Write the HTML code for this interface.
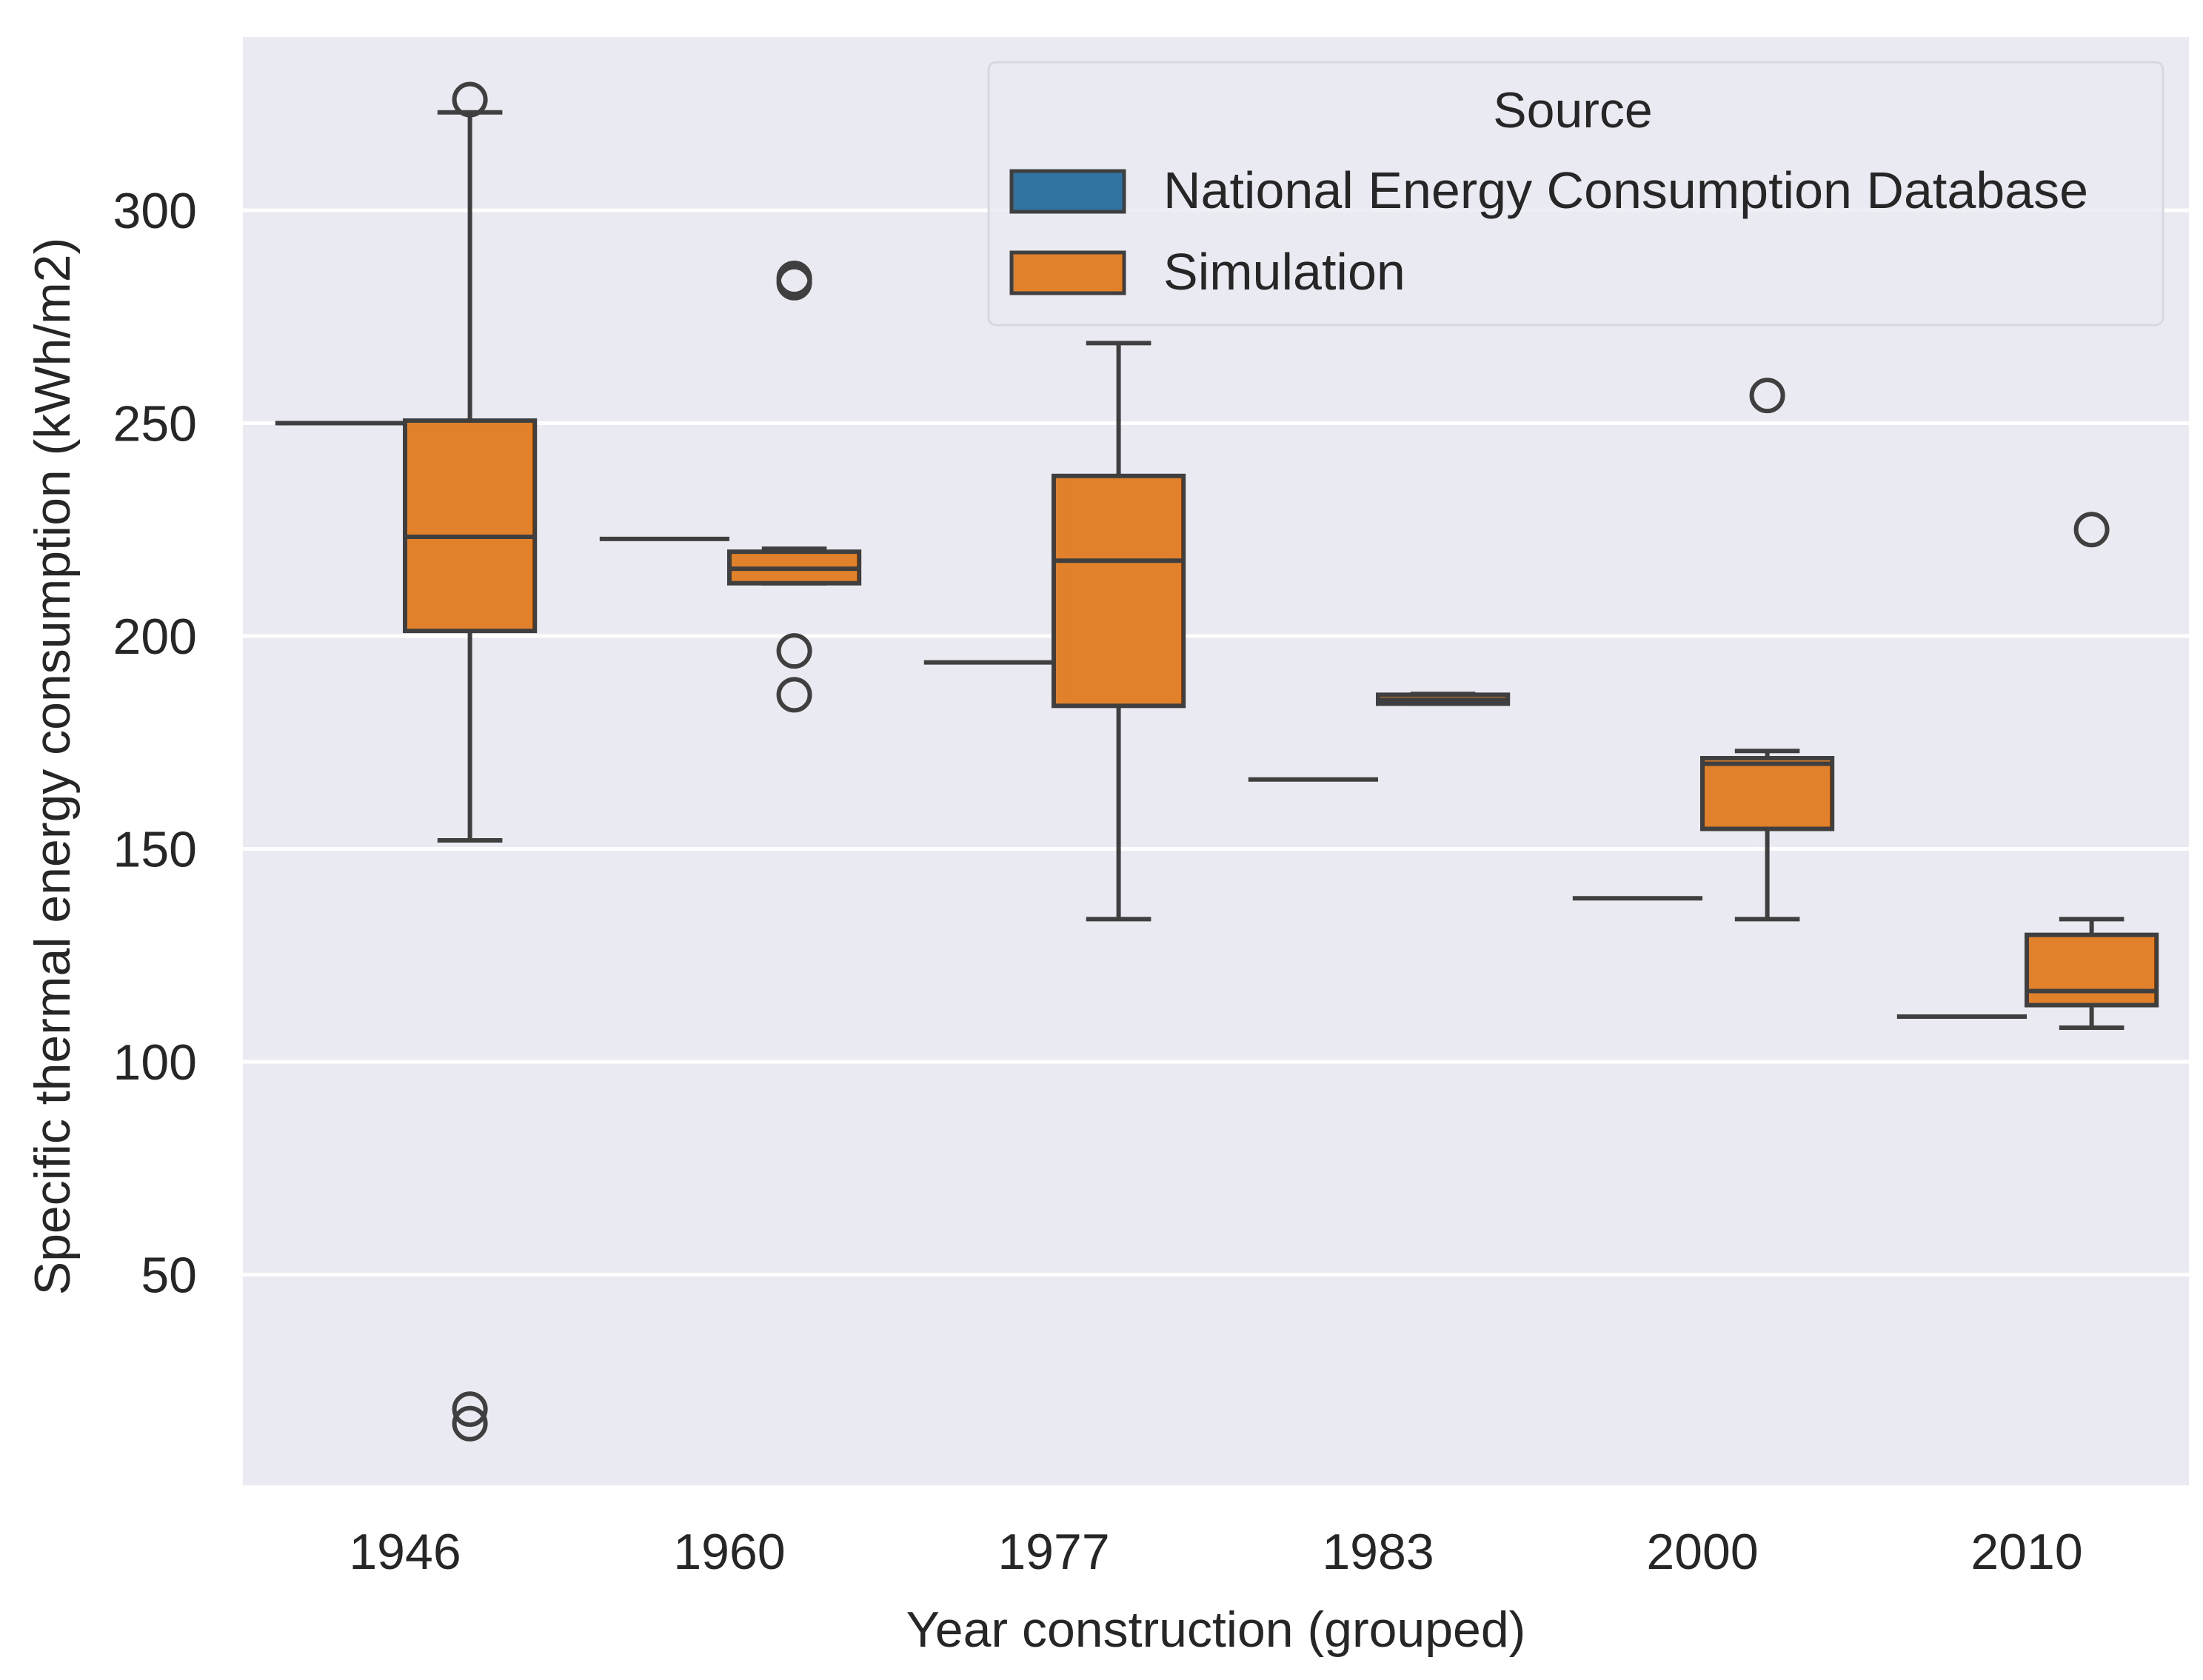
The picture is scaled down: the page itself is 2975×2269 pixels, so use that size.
<!DOCTYPE html>
<html><head><meta charset="utf-8"><style>
html,body{margin:0;padding:0;background:#fff;}
svg text{font-family:"Liberation Sans",Arial,sans-serif;fill:#262626;}
</style></head><body>
<svg id="chart" width="2975" height="2264" viewBox="0 0 2975 2264" xmlns="http://www.w3.org/2000/svg">
<rect x="328" y="50" width="2628" height="1956" fill="#eaeaf2"/>
<g id="grid"></g>
<g id="yticks"></g>
<g id="xticks"></g>
<g id="boxes"></g>
<text transform="translate(94,1035) rotate(-90)" text-anchor="middle" font-size="68">Specific thermal energy consumption (kWh/m2)</text>
<text x="1642" y="2224" text-anchor="middle" font-size="68">Year construction (grouped)</text>
<g>
<rect x="1335" y="84" width="1586" height="355" rx="10" fill="#eaeaf2" stroke="#d8d8e0" stroke-width="3" fill-opacity="0.8"/>
<text x="2124" y="172" text-anchor="middle" font-size="68">Source</text>
<g>
<rect x="1366" y="231" width="152" height="55" fill="#3274a1" stroke="#3f3f3f" stroke-width="5"/>
<text x="1571" y="281" font-size="70">National Energy Consumption Database</text>
</g>
<g>
<rect x="1366" y="341" width="152" height="55" fill="#e1812c" stroke="#3f3f3f" stroke-width="5"/>
<text x="1571" y="391" font-size="70">Simulation</text>
</g>
</g>
</svg>
<script>
const categories = ["1946","1960","1977","1983","2000","2010"];
const yTicks = [50,100,150,200,250,300];
const necdValues = [250, 222.8, 193.8, 166.3, 138.4, 110.6];
const simLowWhisker = [152, 212.4, 133.5, 184.1, 133.5, 108];
const simQ1 = [201.2, 212.4, 183.6, 184.1, 154.7, 113.3];
const simMedian = [223.3, 215.8, 217.7, 185, 170, 116.6];
const simQ3 = [250.6, 219.8, 237.6, 186.2, 171.3, 129.8];
const simHighWhisker = [323, 220.5, 268.8, 186.4, 173, 133.5];
const simOutliers = [[326, 18.4, 15], [284, 283, 196.5, 186.2], [], [], [256.5], [225]];

const NS = "http://www.w3.org/2000/svg";
const left = 328, right = 2956;
const band = (right - left) / categories.length;
function y(v){ return 284 + (300 - v) * 5.75; }
function xc(i){ return left + band * (i + 0.5); }
function mk(tag, attrs, parent){
  const e = document.createElementNS(NS, tag);
  for (const k in attrs) e.setAttribute(k, attrs[k]);
  parent.appendChild(e); return e;
}
const grid = document.getElementById('grid');
const yt = document.getElementById('yticks');
yTicks.forEach(t => {
  const l = mk('line', {x1:left, x2:right, y1:y(t), y2:y(t), stroke:'#fff', 'stroke-width':5}, grid);
  
  
  const tx = mk('text', {x:266, y:y(t)+24, 'text-anchor':'end', 'font-size':68}, yt);
  tx.textContent = t;
  
  
});
const xt = document.getElementById('xticks');
categories.forEach((c, i) => {
  const tx = mk('text', {x:xc(i), y:2119, 'text-anchor':'middle', 'font-size':68}, xt);
  tx.textContent = c;
  
  
});
const boxes = document.getElementById('boxes');
const st = '#3f3f3f', sw = 6, half = band * 0.2;
categories.forEach((c, i) => {
  const cn = xc(i) - band * 0.2, cs = xc(i) + band * 0.2;
  const g1 = mk('g', {}, boxes);
  
  
  mk('line', {x1:cn-half, x2:cn+half, y1:y(necdValues[i]), y2:y(necdValues[i]), stroke:st, 'stroke-width':sw}, g1);
  const g = mk('g', {}, boxes);
  
  
  mk('line', {x1:cs, x2:cs, y1:y(simHighWhisker[i]), y2:y(simQ3[i]), stroke:st, 'stroke-width':sw}, g);
  mk('line', {x1:cs, x2:cs, y1:y(simQ1[i]), y2:y(simLowWhisker[i]), stroke:st, 'stroke-width':sw}, g);
  mk('line', {x1:cs-half/2, x2:cs+half/2, y1:y(simHighWhisker[i]), y2:y(simHighWhisker[i]), stroke:st, 'stroke-width':sw}, g);
  mk('line', {x1:cs-half/2, x2:cs+half/2, y1:y(simLowWhisker[i]), y2:y(simLowWhisker[i]), stroke:st, 'stroke-width':sw}, g);
  mk('rect', {x:cs-half, y:y(simQ3[i]), width:half*2, height:Math.max(1, y(simQ1[i]) - y(simQ3[i])), fill:'#e1812c', stroke:st, 'stroke-width':sw}, g);
  mk('line', {x1:cs-half, x2:cs+half, y1:y(simMedian[i]), y2:y(simMedian[i]), stroke:st, 'stroke-width':sw}, g);
  simOutliers[i].forEach(v => {
    const o = mk('circle', {cx:cs, cy:y(v), r:21, fill:'none', stroke:st, 'stroke-width':sw}, boxes);
    
    
  });
});
</script>
</body></html>
